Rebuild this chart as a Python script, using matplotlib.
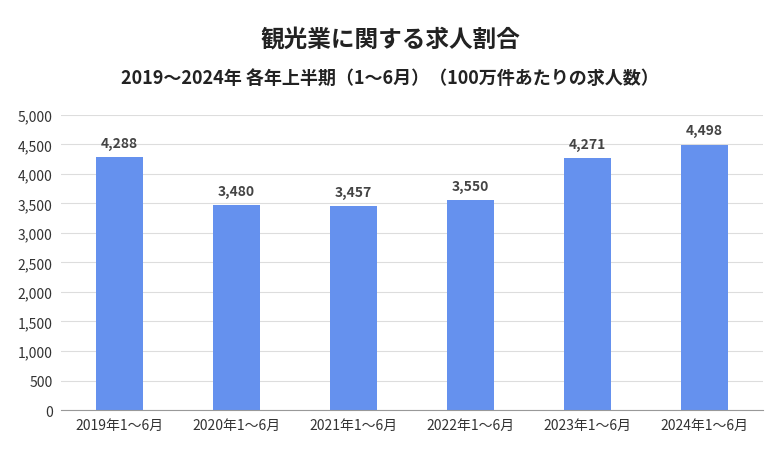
import matplotlib
matplotlib.use("Agg")
import matplotlib.pyplot as plt

categories = ["2019年1～6月", "2020年1～6月", "2021年1～6月", "2022年1～6月", "2023年1～6月", "2024年1～6月"]
values = [4288, 3480, 3457, 3550, 4271, 4498]
yticks = [0, 500, 1000, 1500, 2000, 2500, 3000, 3500, 4000, 4500, 5000]

plt.rcParams["font.family"] = "Noto Sans CJK JP"
fig = plt.figure(figsize=(7.8, 4.6), dpi=100)
ax = fig.add_axes([0.078, 0.1065, 0.9, 0.6415])
x = range(len(categories))
ax.bar(x, values, width=0.4, color="#6591EE", zorder=2)
for i, v in zip(x, values):
    ax.text(i, v + 120, f"{v:,}", ha="center", va="bottom", fontsize=10, fontweight="bold", color="#444444")
ax.set_ylim(0, 5000)
ax.set_xlim(-0.5, len(categories) - 0.5)
ax.set_yticks(yticks)
ax.set_yticklabels([f"{t:,}" for t in yticks], fontsize=10, color="#333333")
ax.set_xticks(list(x))
ax.set_xticklabels(categories, fontsize=10, color="#333333")
ax.grid(axis="y", color="#DDDDDD", linewidth=0.8, zorder=0)
for s in ["top", "right", "left"]:
    ax.spines[s].set_visible(False)
ax.spines["bottom"].set_color("#999999")
ax.tick_params(length=0, pad=6)
fig.text(0.5, 0.915, "観光業に関する求人割合", ha="center", va="center", fontsize=17, fontweight="bold", color="#222222")
fig.text(0.5, 0.83, "2019～2024年 各年上半期（1～6月）（100万件あたりの求人数）", ha="center", va="center", fontsize=13, fontweight="bold", color="#222222")
fig.savefig("out.png", dpi=100)
